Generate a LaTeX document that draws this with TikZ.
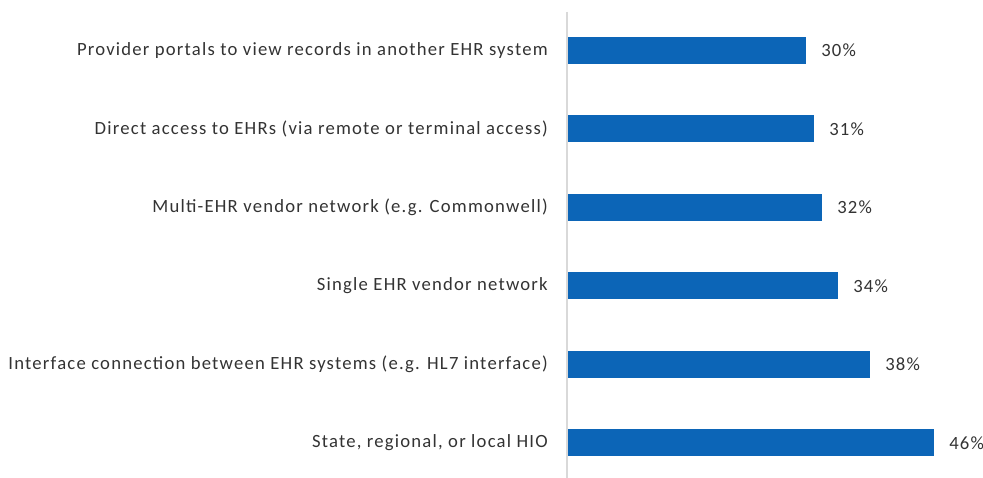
\documentclass[tikz,border=0pt]{standalone}
\usepackage{fontspec}
\setmainfont{Carlito}
\newfontfamily\labelfont[LetterSpace=6.5]{Carlito}
\definecolor{barblue}{RGB}{12,101,183}
\definecolor{axisgray}{RGB}{217,217,217}

\begin{document}
\begin{tikzpicture}[x=0.75pt,y=0.75pt,
  catlabel/.style={anchor=east,inner sep=0pt,font=\labelfont\fontsize{14}{16}\selectfont,text=black!80},
  vallabel/.style={anchor=west,inner sep=0pt,font=\labelfont\fontsize{14}{16}\selectfont,text=black!80},
  bar/.style={fill=barblue}]
\useasboundingbox (0,0) rectangle (983,478);
% axis
\coordinate (axtop) at (567,466);
\coordinate (axbot) at (567,0);
\draw[axisgray,line width=0.9pt] (axtop) -- (axbot);
% bars, top to bottom
\foreach \i/\val/\txt in {0/30/Provider portals to view records in another EHR system,
                          1/31/Direct access to EHRs (via remote or terminal access),
                          2/32/Multi-EHR vendor network (e.g. Commonwell),
                          3/34/Single EHR vendor network,
                          4/38/Interface connection between EHR systems (e.g. HL7 interface),
                          5/46/State{,} regional{,} or local HIO}{
  \pgfmathsetmacro{\yc}{478-50.5-78.5*\i}
  \pgfmathsetmacro{\xe}{566+8*\val}
  \fill[bar] (568,\yc-13.5) rectangle (\xe,\yc+13.5);
  \node[catlabel] (cat\i) at (548,\yc) {\txt};
  \node[vallabel] (val\i) at (\xe+15,\yc) {\val\%};
}
\end{tikzpicture}
\end{document}
